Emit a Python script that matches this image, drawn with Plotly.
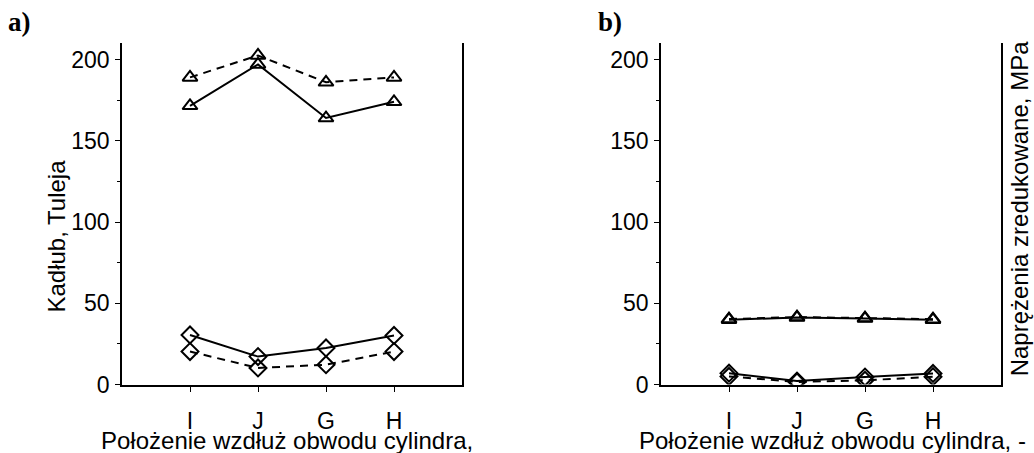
import plotly.graph_objects as go

categories = ["I", "J", "G", "H"]
x_pos = [1, 2, 3, 4]

# panel a) Kadłub / Tuleja
a_tri_solid = [171.5, 197.0, 164.0, 174.0]
a_tri_dash = [189.0, 202.5, 186.0, 189.0]
a_dia_solid = [30.5, 17.2, 22.5, 30.2]
a_dia_dash = [20.3, 10.2, 12.2, 20.3]

# panel b)
b_tri_solid = [39.9, 41.2, 40.6, 39.8]
b_tri_dash = [40.3, 41.5, 40.9, 40.2]
b_dia_solid = [7.0, 2.1, 4.6, 6.8]
b_dia_dash = [5.0, 1.6, 2.6, 4.8]

y_ticks = [0, 50, 100, 150, 200]

FONT = "Liberation Sans, Arial, sans-serif"
FS = 23
FT = 24

fig = go.Figure()

def add(xa, ya, y, symbol, dash):
    fig.add_trace(go.Scatter(
        x=x_pos, y=y, xaxis=xa, yaxis=ya, mode="lines+markers",
        line=dict(color="black", width=2, dash=dash),
        marker=dict(symbol=symbol, size=13, color="rgba(255,255,255,0)",
                    line=dict(color="black", width=2)),
        showlegend=False, hoverinfo="skip"))

dash = "8px,6px"
add("x", "y", a_tri_dash, "triangle-up", dash)
add("x", "y", a_tri_solid, "triangle-up", "solid")
add("x", "y", a_dia_dash, "diamond", dash)
add("x", "y", a_dia_solid, "diamond", "solid")
add("x2", "y2", b_tri_dash, "triangle-up", dash)
add("x2", "y2", b_tri_solid, "triangle-up", "solid")
add("x2", "y2", b_dia_dash, "diamond", dash)
add("x2", "y2", b_dia_solid, "diamond", "solid")

W, H = 1034, 469
TH = 453.0  # visible picture height; positions below are in visible pixels
def py(p):
    return 1 - p / TH

yd = [py(382), py(43)]

xcommon = dict(range=[0, 5], tickvals=x_pos, ticktext=categories,
               showgrid=False, zeroline=False, showline=True,
               linecolor="black", linewidth=1.5, ticks="outside",
               ticklen=6, tickwidth=1, tickcolor="black",
               ticklabelstandoff=9,
               tickfont=dict(family=FONT, size=FS, color="black"))
ycommon = dict(range=[0, 210], tickvals=y_ticks,
               showgrid=False, zeroline=False, showline=True, mirror=True,
               linecolor="black", linewidth=1.5, ticks="outside",
               ticklen=5, tickwidth=1, tickcolor="black",
               minor=dict(ticks="outside", ticklen=3, dtick=25, tick0=0,
                          tickcolor="black", tickwidth=1, showgrid=False),
               ticklabelstandoff=1,
               tickfont=dict(family=FONT, size=FS, color="black"))

fig.update_layout(
    width=W, height=H,
    margin=dict(l=0, r=0, t=0, b=0),
    paper_bgcolor="white", plot_bgcolor="white",
    xaxis=dict(domain=[122 / W, 462 / W], anchor="y", **xcommon),
    yaxis=dict(domain=yd, anchor="x", **ycommon),
    xaxis2=dict(domain=[661 / W, 1001 / W], anchor="y2", **xcommon),
    yaxis2=dict(domain=yd, anchor="x2", **ycommon),
)

SERIF = "Liberation Serif, Times New Roman, serif"
ann = [
    dict(text="<b>a)</b>", x=6, y=22, font=dict(family=SERIF, size=27)),
    dict(text="<b>b)</b>", x=596, y=22, font=dict(family=SERIF, size=27)),
    dict(text="Kadłub, Tuleja", x=57, y=235, xanchor="center", textangle=-90, font=dict(family=FONT, size=FT)),
    dict(text="Naprężenia zredukowane, MPa", x=1019, y=207, xanchor="center", textangle=-90, font=dict(family=FONT, size=FT)),
    dict(text="Położenie wzdłuż obwodu cylindra,", x=287, y=438, xanchor="center", font=dict(family=FONT, size=FT)),
    dict(text="Położenie wzdłuż obwodu cylindra, -", x=832, y=438, xanchor="center", font=dict(family=FONT, size=FT)),
]
for a in ann:
    xa = a.pop("xanchor", "left")
    fig.add_annotation(xref="paper", yref="paper", x=a.pop("x") / W, y=py(a.pop("y")),
                       xanchor=xa, yanchor="middle", showarrow=False,
                       font=dict(color="black", **a.pop("font")), **a)

fig.write_html("out.html")
